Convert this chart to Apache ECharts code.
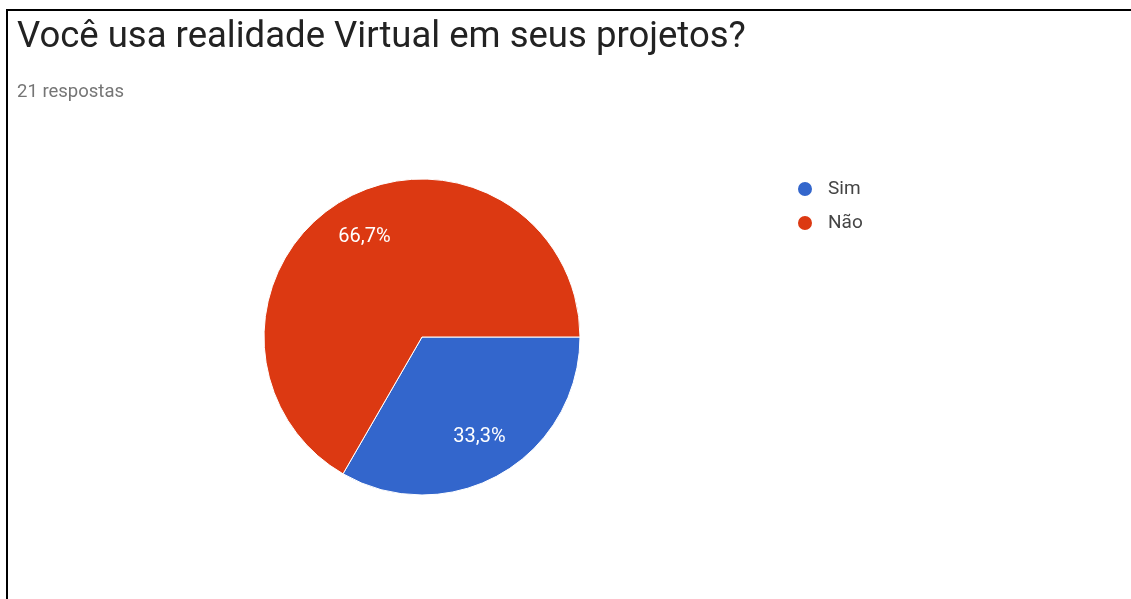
<!DOCTYPE html>
<html><head><meta charset="utf-8">
<script src="https://cdn.jsdelivr.net/npm/echarts@6/dist/echarts.min.js"></script>
<style>
html,body{margin:0;padding:0;background:#fff;}
#frame{position:absolute;left:6px;top:9px;width:1125px;height:590px;border-top:2px solid #000;border-left:2px solid #000;}
#c{position:absolute;left:0;top:0;width:1131px;height:599px;}
</style></head>
<body>
<div id="frame"></div>
<div id="c"></div>
<script>
const titleText = "Você usa realidade Virtual em seus projetos?";
const subtitleText = "21 respostas";
const categories = ["Sim", "Não"];
const values = [7, 14];
const colors = ["#3366cc", "#dc3912"];

const chart = echarts.init(document.getElementById('c'));
const data = categories.map((n, i) => ({name: n, value: values[i], itemStyle: {color: colors[i]}}));
chart.setOption({
  animation: false,
  title: {
    text: titleText, subtext: subtitleText,
    left: 17, top: 19, itemGap: 27, padding: 0,
    textStyle: {fontFamily: 'Roboto', fontSize: 36.5, fontWeight: 'normal', color: '#222'},
    subtextStyle: {fontFamily: 'Roboto', fontSize: 18.5, color: '#757575'}
  },
  legend: {
    data: categories, orient: 'vertical', left: 796, top: 179, padding: 0,
    icon: 'circle', itemWidth: 16, itemHeight: 16, itemGap: 14,
    textStyle: {fontFamily: 'Roboto', fontSize: 19, lineHeight: 20, color: '#444', padding: [0, 0, 0, 10]}
  },
  series: [{
    type: 'pie', center: [422, 337], radius: [0, 158],
    startAngle: 0, clockwise: true,
    data: data,
    itemStyle: {borderColor: '#fff', borderWidth: 1},
    label: {show: false}, labelLine: {show: false},
    emphasis: {disabled: true}
  }, {
    type: 'pie', center: [422, 337], radius: [66, 158],
    startAngle: 0, clockwise: true, silent: true,
    data: data.map(d => ({name: d.name, value: d.value, itemStyle: {color: 'rgba(0,0,0,0)'}})),
    itemStyle: {borderWidth: 0},
    label: {show: true, position: 'inside', color: '#fff', fontFamily: 'Roboto', fontSize: 20,
      formatter: p => p.percent.toFixed(1).replace('.', ',') + '%'},
    labelLine: {show: false}, legendHoverLink: false,
    emphasis: {disabled: true}
  }]
});
</script>
</body></html>
